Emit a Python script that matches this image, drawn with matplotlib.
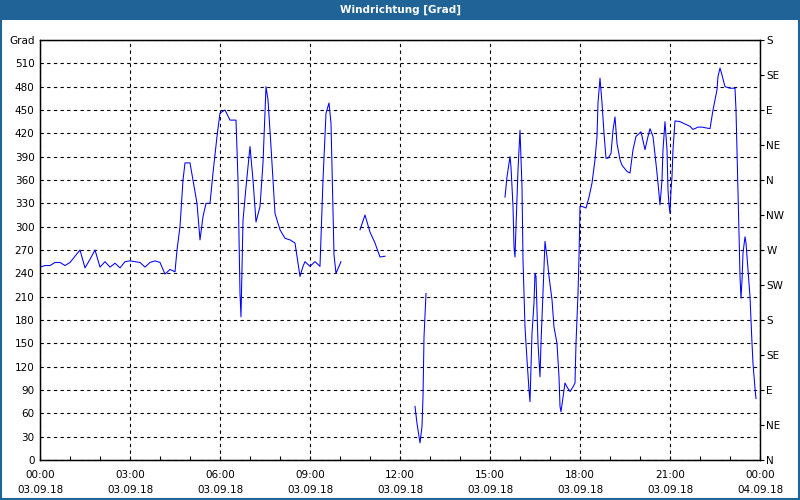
import matplotlib
matplotlib.use('Agg')
import matplotlib.pyplot as plt
import matplotlib.patches as patches
import numpy as np

plt.rcParams['font.family'] = 'DejaVu Sans'
plt.rcParams['font.size'] = 7.5

# wind direction record of 03.09.18, minutes after 00:00, separate stretches (gaps between)
min_a = [0, 10, 20, 30, 40, 50, 60, 70, 80, 90, 100, 110, 120, 130, 140, 150, 160, 170, 180, 190,
         200, 210, 220, 230, 240, 250, 260, 270, 274, 280, 286, 290, 300, 306, 314, 320, 326, 332, 340, 346,
         354, 360, 370, 380, 392, 396, 400, 402, 406, 412, 420, 426, 432, 440, 446, 452, 456, 462, 470, 480,
         490, 500, 510, 520, 526, 530, 540, 550, 560, 566, 572, 578, 582, 588, 592, 602]
grad_a = [248, 250, 250, 254, 254, 250, 254, 262, 270, 247, 258, 270, 248, 255, 248, 253, 247, 255, 256, 255,
          254, 248, 254, 256, 254, 239, 245, 242, 270, 300, 360, 382, 382, 360, 330, 283, 313, 330, 330, 369,
          416, 446, 450, 437, 437, 360, 214, 184, 308, 351, 403, 360, 306, 326, 382, 480, 463, 403, 317, 296,
          285, 283, 279, 236, 249, 255, 249, 255, 249, 360, 446, 459, 433, 264, 240, 255]

min_b = [640, 650, 660, 670, 680, 690]
grad_b = [296, 315, 293, 279, 261, 262]

min_c = [750, 754, 758, 760, 764, 766, 768, 772]
grad_c = [69, 47, 30, 22, 43, 81, 158, 214]

min_d = [930, 934, 940, 942, 944, 946, 948, 950, 952, 956, 960, 964, 966, 970, 974, 978, 980, 984, 988, 990,
         992, 996, 1000, 1002, 1006, 1010, 1014, 1018, 1024, 1028, 1034, 1038, 1040, 1042, 1046, 1050, 1054, 1060, 1066, 1070,
         1072, 1076, 1078, 1080, 1084, 1092, 1098, 1104, 1110, 1114, 1116, 1120, 1124, 1128, 1132, 1136, 1142, 1146, 1150, 1154,
         1160, 1164, 1174, 1180, 1186, 1192, 1202, 1210, 1216, 1220, 1226, 1232, 1236, 1240, 1244, 1246, 1250, 1254, 1256, 1258,
         1260, 1262, 1264, 1266, 1270, 1280, 1300, 1306, 1316, 1324, 1340, 1346, 1354, 1356, 1360, 1364, 1370, 1380, 1390, 1392,
         1394, 1396, 1398, 1400, 1402, 1404, 1406, 1410, 1412, 1416, 1420, 1424, 1426, 1430, 1432]
grad_d = [338, 364, 390, 377, 351, 326, 274, 261, 300, 373, 424, 351, 257, 171, 129, 90, 75, 163, 202, 240,
          236, 150, 107, 150, 214, 281, 261, 236, 206, 171, 150, 107, 69, 62, 81, 99, 94, 88, 94, 99,
          150, 214, 261, 326, 326, 324, 338, 356, 386, 416, 459, 491, 459, 420, 388, 388, 394, 424, 441, 407,
          386, 379, 371, 369, 399, 416, 422, 399, 416, 426, 416, 381, 356, 328, 360, 399, 435, 399, 347, 328,
          317, 347, 364, 399, 436, 435, 429, 425, 428, 428, 426, 450, 476, 493, 504, 495, 480, 478, 478, 450,
          399, 343, 292, 236, 208, 231, 266, 287, 279, 244, 210, 150, 124, 92, 79]

time_labels = ['00:00\n03.09.18', '03:00\n03.09.18', '06:00\n03.09.18', '09:00\n03.09.18',
               '12:00\n03.09.18', '15:00\n03.09.18', '18:00\n03.09.18', '21:00\n03.09.18',
               '00:00\n04.09.18']
compass = ['N', 'NE', 'E', 'SE', 'S', 'SW', 'W', 'NW', 'N', 'NE', 'E', 'SE', 'S']

# glue the stretches with NaN so the line breaks at the gaps
hours = []
values = []
for m, g in [(min_a, grad_a), (min_b, grad_b), (min_c, grad_c), (min_d, grad_d)]:
    hours += [t / 60 for t in m] + [np.nan]
    values += g + [np.nan]

fig = plt.figure(figsize=(8, 5), dpi=100, facecolor='white')

# title bar and window frame
fig.patches.append(patches.Rectangle((0, 0.96), 1, 0.04, transform=fig.transFigure,
                                     facecolor='#1f6397', edgecolor='none', zorder=0))
fig.patches.append(patches.Rectangle((0.001, 0.002), 0.998, 0.996, transform=fig.transFigure,
                                     facecolor='none', edgecolor='#1f6397', linewidth=1.5, zorder=5))
fig.text(0.5, 0.98, 'Windrichtung [Grad]', color='white', fontweight='bold',
         ha='center', va='center', fontsize=7.5)

ax = fig.add_axes([0.05, 0.08, 0.90, 0.84])
ax.plot(hours, values, color='#0000ff', linewidth=0.75)

ax.set_xlim(0, 24)
ax.set_ylim(0, 540)

ax.set_xticks(np.arange(0, 25, 3))
ax.set_xticklabels(time_labels, linespacing=1.6)
ax.set_xticks(np.arange(0, 25, 1), minor=True)
ax.tick_params(axis='x', which='both', direction='in', length=3, pad=7.5, width=0.8)

yt = np.arange(0, 541, 30)
ax.set_yticks(yt)
ax.set_yticklabels([str(v) for v in yt[:-1]] + ['Grad'])
ax.tick_params(axis='y', length=0, pad=4)

ax.grid(True, color='black', linestyle=(0, (3, 3)), linewidth=0.8)
for s in ax.spines.values():
    s.set_linewidth(1.0)

ax2 = ax.twinx()
ax2.set_ylim(0, 540)
ax2.set_yticks(np.arange(0, 541, 45))
ax2.set_yticklabels(compass)
ax2.tick_params(axis='y', direction='out', length=3, pad=1.5, width=0.8)

plt.savefig('out.png', dpi=100)
